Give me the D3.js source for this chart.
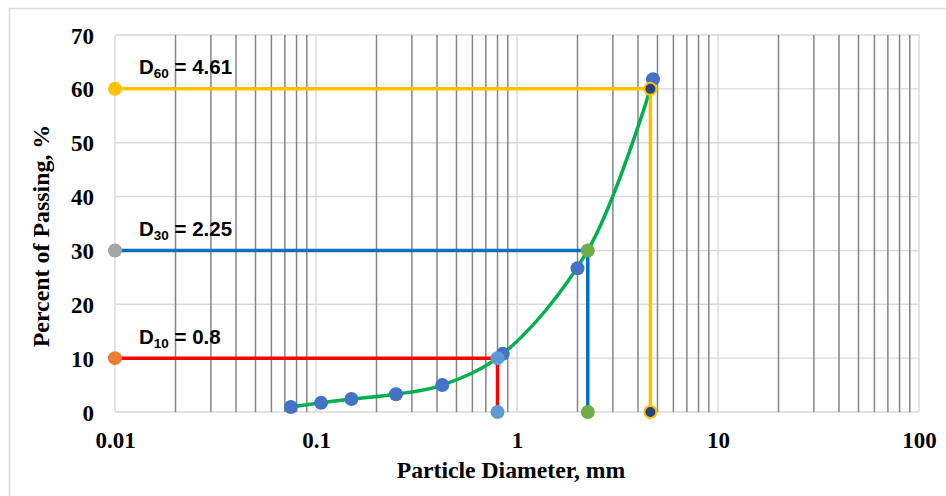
<!DOCTYPE html>
<html>
<head>
<meta charset="utf-8">
<script src="https://cdn.jsdelivr.net/npm/d3@7"></script>
<style>
  html, body { margin: 0; padding: 0; background: #fff; }
  svg { display: block; }
</style>
</head>
<body>
<svg id="chart" width="946" height="496"></svg>
<script>
// Sieve analysis: particle size (mm) vs percent passing
const sieveSize = [0.075, 0.106, 0.15, 0.25, 0.425, 0.85, 2.0, 4.75];
const percentPassing = [0.93, 1.7, 2.4, 3.3, 5.0, 10.8, 26.7, 61.8];

// Characteristic diameters
const dNames = ["10", "30", "60"];
const dPercent = [10, 30, 60];
const dSize = [0.8, 2.25, 4.61];

// Smoothed gradation curve
const curveSize = [0.075, 0.106, 0.15, 0.25, 0.425, 0.85, 2.25, 4.61];
const curvePercent = [0.93, 1.7, 2.4, 3.3, 5.0, 10.8, 30, 60];

const xTickValues = [0.01, 0.1, 1, 10, 100];
const xTickLabels = ["0.01", "0.1", "1", "10", "100"];
const yTickValues = [0, 10, 20, 30, 40, 50, 60, 70];

const xTitle = "Particle Diameter, mm";
const yTitle = "Percent of Passing, %";

// Styles for each characteristic diameter guide
const guideStyle = [
  { line: "#FF0000", left: "#ED7D31", point: "#5B9BD5", stroke: "none" },
  { line: "#0070C0", left: "#A5A5A5", point: "#70AD47", stroke: "none" },
  { line: "#FFC000", left: "#FFC000", point: "#264478", stroke: "#FFC000" }
];

const svg = d3.select("#chart");
const x = d3.scaleLog().domain([0.01, 100]).range([115, 919]);
const y = d3.scaleLinear().domain([0, 70]).range([412, 35]);

// Outer chart frame
svg.append("rect")
  .attr("x", 9.5).attr("y", 8.5)
  .attr("width", 980).attr("height", 520)
  .attr("fill", "#fff").attr("stroke", "#d9d9d9").attr("stroke-width", 1.5);

// Horizontal gridlines
svg.append("g").selectAll("line").data(yTickValues).join("line")
  .attr("x1", x(0.01)).attr("x2", x(100))
  .attr("y1", d => y(d)).attr("y2", d => y(d))
  .attr("stroke", "#d9d9d9").attr("stroke-width", 1.4);

// Vertical gridlines: minor (2..9) darker, decades light
const allX = x.ticks();
const isDecade = v => Math.abs(Math.log10(v) - Math.round(Math.log10(v))) < 1e-9;
svg.append("g").selectAll("line").data(allX.filter(v => !isDecade(v))).join("line")
  .attr("x1", d => x(d)).attr("x2", d => x(d))
  .attr("y1", y(70)).attr("y2", y(0))
  .attr("stroke", "#858585").attr("stroke-width", 1.5);
svg.append("g").selectAll("line").data(allX.filter(isDecade)).join("line")
  .attr("x1", d => x(d)).attr("x2", d => x(d))
  .attr("y1", y(70)).attr("y2", y(0))
  .attr("stroke", "#d9d9d9").attr("stroke-width", 1.4);

// Axes (labels only)
const xAxis = d3.axisBottom(x).tickValues(xTickValues)
  .tickFormat((d, i) => xTickLabels[i]).tickSize(0).tickPadding(0);
const gx = svg.append("g").attr("transform", "translate(0,448)").call(xAxis);
gx.select(".domain").remove();
gx.selectAll("text")
  .attr("y", 0).attr("dy", 0)
  .attr("font-family", "'Liberation Serif', 'Times New Roman', serif")
  .attr("font-weight", "bold").attr("font-size", 23).attr("fill", "#000");

const yAxis = d3.axisLeft(y).tickValues(yTickValues).tickSize(0).tickPadding(0);
const gy = svg.append("g").attr("transform", "translate(94,0)").call(yAxis);
gy.select(".domain").remove();
gy.selectAll("text")
  .attr("x", 0).attr("dy", 8)
  .attr("font-family", "'Liberation Serif', 'Times New Roman', serif")
  .attr("font-weight", "bold").attr("font-size", 23).attr("fill", "#000");

// Axis titles
svg.append("text")
  .attr("x", 511).attr("y", 478).attr("text-anchor", "middle")
  .attr("font-family", "'Liberation Serif', 'Times New Roman', serif")
  .attr("font-weight", "bold").attr("font-size", 23.7).attr("fill", "#000")
  .text(xTitle);
svg.append("text")
  .attr("transform", "translate(49,236) rotate(-90)").attr("text-anchor", "middle")
  .attr("font-family", "'Liberation Serif', 'Times New Roman', serif")
  .attr("font-weight", "bold").attr("font-size", 23.9).attr("fill", "#000")
  .text(yTitle);

// Gradation curve
const curvePts = curveSize.map((s, i) => [s, curvePercent[i]]);
svg.append("path")
  .datum(curvePts)
  .attr("fill", "none").attr("stroke", "#00B050").attr("stroke-width", 3.5)
  .attr("d", d3.line().x(d => x(d[0])).y(d => y(d[1])).curve(d3.curveCatmullRom.alpha(0.5)));

// Sieve data points
svg.append("g").selectAll("circle").data(sieveSize.map((s, i) => [s, percentPassing[i]])).join("circle")
  .attr("cx", d => x(d[0])).attr("cy", d => y(d[1])).attr("r", 7)
  .attr("fill", "#4472C4");

// Guides for D10, D30, D60
dNames.forEach((name, i) => {
  const st = guideStyle[i];
  const pts = [[0.01, dPercent[i]], [dSize[i], dPercent[i]], [dSize[i], 0]];
  svg.append("path").datum(pts)
    .attr("fill", "none").attr("stroke", st.line).attr("stroke-width", 3.5)
    .attr("d", d3.line().x(d => x(d[0])).y(d => y(d[1])));
});
dNames.forEach((name, i) => {
  const st = guideStyle[i];
  svg.append("circle")
    .attr("cx", x(0.01)).attr("cy", y(dPercent[i])).attr("r", 7)
    .attr("fill", st.left);
  [[dSize[i], dPercent[i]], [dSize[i], 0]].forEach(p => {
    svg.append("circle")
      .attr("cx", x(p[0])).attr("cy", y(p[1]))
      .attr("r", st.stroke === "none" ? 7 : 6)
      .attr("fill", st.point)
      .attr("stroke", st.stroke).attr("stroke-width", st.stroke === "none" ? 0 : 2);
  });
  // Label: D<sub>n</sub> = value
  const t = svg.append("text")
    .attr("x", x(0.01) + 24).attr("y", y(dPercent[i]) - 14.5)
    .attr("font-family", "'Liberation Sans', Arial, sans-serif")
    .attr("font-weight", "bold").attr("font-size", 20.5).attr("fill", "#000");
  t.append("tspan").text("D");
  t.append("tspan").attr("font-size", 13.5).attr("dy", 4).text(name);
  t.append("tspan").attr("dy", -4).text(" = " + dSize[i]);
});
</script>
</body>
</html>
